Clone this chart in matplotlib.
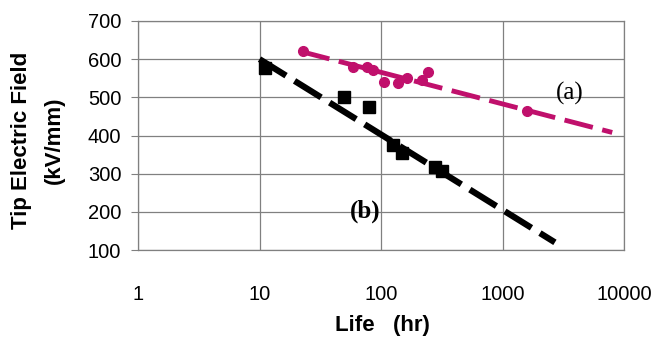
import matplotlib
matplotlib.use("Agg")
import matplotlib.pyplot as plt
from matplotlib.ticker import FixedLocator, NullLocator

# series (a): measured points and fitted trend
a_life = [23, 59, 76, 86, 105, 138, 164, 218, 245, 1600]
a_field = [622, 580, 580, 572, 540, 538, 551, 545, 566, 465]
a_fit_life = [22, 8000]
a_fit_field = [620, 408]

# series (b): measured points and fitted trend
b_life = [11, 50, 80, 125, 150, 280, 320]
b_field = [578, 500, 475, 375, 355, 318, 308]
b_fit_life = [10, 2700]
b_fit_field = [600, 120]

x_ticks = [1, 10, 100, 1000, 10000]
x_tick_labels = ["1", "10", "100", "1000", "10000"]
y_ticks = [100, 200, 300, 400, 500, 600, 700]

magenta = "#c0106c"
grid_col = "#808080"

plt.rcParams["font.family"] = ["Liberation Sans", "DejaVu Sans"]

fig = plt.figure(figsize=(6.56, 3.42), dpi=100)
fig.patch.set_facecolor("white")
ax = fig.add_axes([138 / 656, 1 - 250 / 342, (624 - 138) / 656, (250 - 21) / 342])

ax.set_xscale("log")
ax.set_xlim(1, 10000)
ax.set_ylim(100, 700)

ax.xaxis.set_major_locator(FixedLocator(x_ticks))
ax.xaxis.set_minor_locator(NullLocator())
ax.set_xticklabels(x_tick_labels)
ax.set_yticks(y_ticks)
ax.grid(True, color=grid_col, linewidth=0.9)
ax.set_axisbelow(True)
for s in ax.spines.values():
    s.set_color(grid_col)
    s.set_linewidth(0.9)
ax.tick_params(axis="y", length=5, color=grid_col, labelsize=14.5, pad=7)
ax.tick_params(axis="x", length=0, labelsize=14.5, pad=25)

# fitted lines
ax.plot(a_fit_life, a_fit_field, color=magenta, linewidth=3.5,
        dashes=(6, 2))
ax.plot(b_fit_life, b_fit_field, color="black", linewidth=4.5,
        dashes=(5, 1.6))

# data markers
ax.plot(a_life, a_field, linestyle="none", marker="o", markersize=7,
        color=magenta)
ax.plot(b_life, b_field, linestyle="none", marker="s", markersize=9,
        color="black")

ax.text(3600, 511, "(a)", fontsize=18, family="Liberation Serif",
        ha="center", va="center")
ax.text(74, 202, "(b)", fontsize=18, family="Liberation Serif",
        fontweight="bold", ha="center", va="center")

fig.text(22 / 656, 1 - 140 / 342, "Tip Electric Field", rotation=90,
         fontsize=16, fontweight="bold", ha="center", va="center")
fig.text(54 / 656, 1 - 140 / 342, "(kV/mm)", rotation=90,
         fontsize=16, fontweight="bold", ha="center", va="center")
fig.text(382 / 656, 1 - 326 / 342, "Life   (hr)", fontsize=16,
         fontweight="bold", ha="center", va="center")

fig.savefig("out.png", dpi=100)
